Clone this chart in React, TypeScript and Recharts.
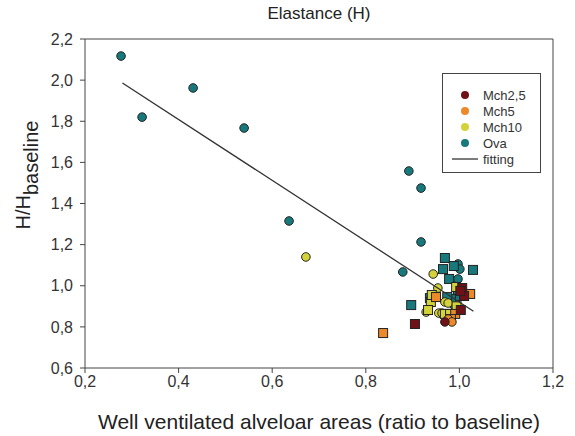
import * as React from "react"
import {
  ScatterChart, Scatter, XAxis, YAxis, ReferenceLine, Label,
} from "recharts"

// [x, y, marker]  c = circle, s = square
type Pt = [number, number, "c" | "s"]

const mch25: Pt[] = [
  [0.905, 0.814, "s"], [1.006, 0.989, "s"], [1.003, 0.882, "s"],
  [1.010, 0.950, "s"], [0.969, 0.824, "c"], [1.002, 0.975, "s"],
]

const mch5: Pt[] = [
  [0.837, 0.770, "s"], [1.023, 0.960, "s"], [0.950, 0.945, "s"],
  [0.991, 0.863, "s"], [0.982, 0.838, "s"], [0.976, 0.838, "c"],
  [0.984, 0.824, "c"],
]

const mch10: Pt[] = [
  [0.672, 1.140, "c"], [0.944, 1.057, "c"], [0.954, 0.989, "c"],
  [0.969, 0.921, "c"], [0.976, 0.916, "c"], [0.929, 0.872, "c"],
  [0.956, 0.867, "c"], [0.963, 0.867, "c"], [0.993, 0.994, "s"],
  [0.939, 0.921, "s"], [0.969, 0.863, "s"], [0.980, 0.863, "s"],
  [0.941, 0.955, "s"], [0.933, 0.882, "s"], [0.994, 0.900, "s"],
]

const ova: Pt[] = [
  [0.277, 2.117, "c"], [0.322, 1.820, "c"], [0.431, 1.962, "c"],
  [0.540, 1.767, "c"], [0.636, 1.315, "c"], [0.892, 1.558, "c"],
  [0.918, 1.475, "c"], [0.918, 1.213, "c"], [0.879, 1.067, "c"],
  [0.997, 1.106, "c"], [1.001, 1.081, "c"], [0.997, 1.033, "c"],
  [0.988, 0.906, "c"],
  [0.969, 1.135, "s"], [0.965, 1.081, "s"], [0.988, 1.096, "s"],
  [1.029, 1.077, "s"], [0.978, 1.033, "s"], [0.937, 0.940, "s"],
  [0.897, 0.906, "s"], [0.991, 0.936, "s"], [1.001, 0.950, "s"],
  [0.997, 0.979, "s"], [0.974, 0.945, "s"],
]

// two ends of the fitted line
const fitX = [0.28, 1.03]
const fitY = [1.986, 0.876]

const xTicks = [0.2, 0.4, 0.6, 0.8, 1.0, 1.2]
const yTicks = [0.6, 0.8, 1.0, 1.2, 1.4, 1.6, 1.8, 2.0, 2.2]

const COLORS = {
  mch25: "#6e1218",
  mch5: "#ec8a2a",
  mch10: "#d3d23a",
  ova: "#18797c",
}

const FONT = "'Liberation Sans', Arial, sans-serif"

const toRows = (pts: Pt[]) => pts.map(([x, y, k]) => ({ x, y, k }))
const fitRows = fitX.map((x, i) => ({ x, y: fitY[i] }))
const comma = (v: number) => v.toFixed(1).replace(".", ",")

function Marker(props: any) {
  const { cx, cy, fill } = props
  if (cx == null || cy == null) return <g />
  const k = props.payload?.k ?? props.k
  if (k === "s") {
    return <rect x={cx - 4.5} y={cy - 4.5} width={9} height={9} fill={fill} stroke="#222" strokeWidth={1} />
  }
  return <circle cx={cx} cy={cy} r={4.3} fill={fill} stroke="#222" strokeWidth={1} />
}

const legendItems = [
  { name: "Mch2,5", color: COLORS.mch25, line: false },
  { name: "Mch5", color: COLORS.mch5, line: false },
  { name: "Mch10", color: COLORS.mch10, line: false },
  { name: "Ova", color: COLORS.ova, line: false },
  { name: "fitting", color: "#333", line: true },
]

// legend is drawn outside the chart so it doesn't steal plot space
function LegendBox() {
  return (
    <div style={{
      position: "absolute", left: 442, top: 73, width: 97,
      border: "1px solid #444", background: "#fff",
      paddingTop: 13, paddingBottom: 5, fontFamily: FONT, fontSize: 13, color: "#333",
    }}>
      {legendItems.map((it) => (
        <div key={it.name} style={{ display: "flex", alignItems: "center", height: 16 }}>
          <svg width={40} height={16}>
            {it.line
              ? <line x1={9} x2={35} y1={8} y2={8} stroke={it.color} strokeWidth={1.3} />
              : <circle cx={22} cy={8} r={4} fill={it.color} />}
          </svg>
          <span>{it.name}</span>
        </div>
      ))}
    </div>
  )
}

function YTitle() {
  return (
    <text transform="translate(30,175) rotate(-90)" textAnchor="middle"
      fontFamily={FONT} fontSize={20} fill="#222">
      <tspan>H/H</tspan>
      <tspan dy={8}>baseline</tspan>
    </text>
  )
}

function XTitle() {
  return (
    <text x={319} y={429} textAnchor="middle" fontFamily={FONT} fontSize={21} fill="#222">
      Well ventilated alveloar areas (ratio to baseline)
    </text>
  )
}

export default function App() {
  const tick = { fontFamily: FONT, fontSize: 16, fill: "#333" }
  return (
    <div style={{ position: "absolute", left: 0, top: 0, width: 575, height: 436, background: "#fff" }}>
      <div style={{
        position: "absolute", left: 0, top: 4, width: 638, textAlign: "center",
        fontFamily: FONT, fontSize: 17, color: "#222",
      }}>
        Elastance (H)
      </div>
      <ScatterChart width={575} height={436} margin={{ top: 39, right: 22, bottom: 8, left: 10 }}>
        <XAxis
          type="number" dataKey="x" domain={[0.2, 1.2]} ticks={xTicks}
          tickFormatter={comma} tick={tick} tickSize={5} tickMargin={3}
          axisLine={{ stroke: "#444" }} tickLine={{ stroke: "#444" }} height={60}
          allowDataOverflow
        >
          <Label content={<XTitle />} />
        </XAxis>
        <YAxis
          type="number" dataKey="y" domain={[0.6, 2.2]} ticks={yTicks}
          tickFormatter={comma} tick={tick} tickSize={5} tickMargin={7}
          axisLine={{ stroke: "#444" }} tickLine={{ stroke: "#444" }} width={75}
          allowDataOverflow
        >
          <Label content={<YTitle />} />
        </YAxis>
        <ReferenceLine y={2.2} stroke="#444" />
        <ReferenceLine x={1.2} stroke="#444" />
        <Scatter name="Ova" data={toRows(ova)} fill={COLORS.ova} shape={<Marker />} isAnimationActive={false} />
        <Scatter name="Mch10" data={toRows(mch10)} fill={COLORS.mch10} shape={<Marker />} isAnimationActive={false} />
        <Scatter name="Mch5" data={toRows(mch5)} fill={COLORS.mch5} shape={<Marker />} isAnimationActive={false} />
        <Scatter name="Mch2,5" data={toRows(mch25)} fill={COLORS.mch25} shape={<Marker />} isAnimationActive={false} />
        <Scatter
          name="fitting" data={fitRows} fill="#333" line={{ stroke: "#333", strokeWidth: 1.3 }}
          shape={() => <g />} legendType="none" isAnimationActive={false}
        />
      </ScatterChart>
      <LegendBox />
    </div>
  )
}
